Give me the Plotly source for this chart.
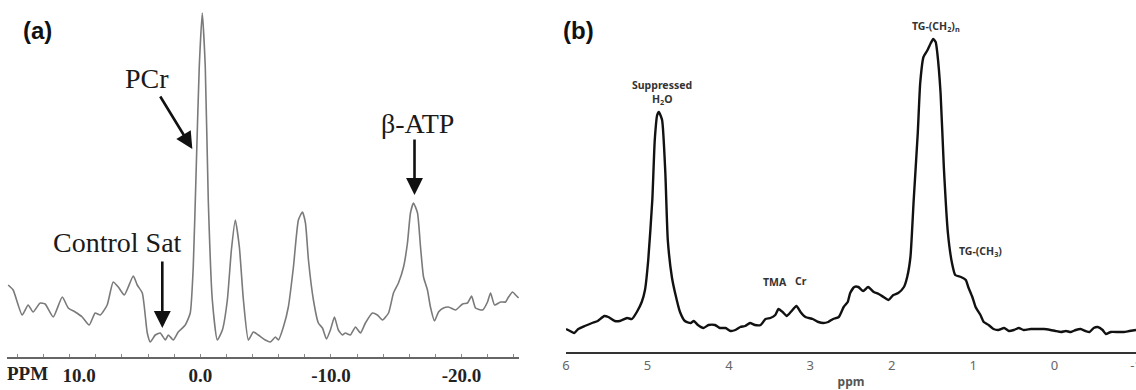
import plotly.graph_objects as go

# ---------------- Panel (a): 31P spectrum ----------------
ppm_a = [14.71, 14.33, 13.64, 13.18, 12.80, 12.26, 11.88, 11.26, 10.57, 10.11,
         9.58, 9.04, 8.51, 8.05, 7.66, 7.13, 6.67, 6.28, 5.82, 5.13,
         4.83, 4.44, 4.06, 3.83, 3.45, 3.07, 2.68, 2.45, 2.07, 1.69,
         1.15, 0.77, 0.54, 0.31, 0.08, -0.15, -0.38, -0.61, -0.92, -1.30,
         -1.69, -2.07, -2.38, -2.68, -2.99, -3.30, -3.68, -4.06, -4.44, -4.98,
         -5.36, -5.75, -5.98, -6.36, -6.74, -7.13, -7.51, -7.82, -8.05, -8.28,
         -8.66, -9.04, -9.35, -9.66, -9.96, -10.27, -10.57, -10.88, -11.11, -11.49,
         -11.88, -12.26, -12.64, -13.18, -13.56, -13.95, -14.41, -14.79, -15.17, -15.56,
         -15.86, -16.09, -16.32, -16.63, -16.86, -17.09, -17.39, -17.62, -17.93, -18.24,
         -18.62, -19.00, -19.54, -20.08, -20.46, -20.77, -21.07, -21.61, -21.99, -22.22,
         -22.53, -22.99, -23.37, -23.60, -23.91, -24.14, -24.37]
int_a = [72, 67, 42, 52, 45, 54, 53, 40, 60, 49,
         45, 40, 32, 44, 42, 52, 75, 70, 62, 81,
         72, 64, 24, 15, 22, 24, 17, 22, 17, 25,
         32, 44, 90, 190, 290, 344, 290, 157, 57, 17,
         27, 57, 107, 137, 110, 57, 17, 25, 22, 17,
         15, 20, 17, 30, 50, 90, 137, 145, 134, 97,
         57, 34, 29, 18, 27, 40, 27, 22, 24, 22,
         30, 24, 34, 44, 42, 37, 44, 64, 74, 90,
         114, 144, 154, 144, 110, 80, 67, 50, 36, 45,
         49, 50, 47, 53, 54, 61, 49, 47, 55, 64,
         52, 55, 55, 60, 65, 62, 59]
tick_vals_a = [14, 12, 10, 8, 6, 4, 2, 0, -2, -4, -6, -8, -10, -12, -14, -16, -18, -20, -22, -24]
tick_text_a = ["", "", "10.0", "", "", "", "", "0.0", "", "", "", "", "-10.0", "", "", "", "", "-20.0", "", ""]

# ---------------- Panel (b): 1H spectrum ----------------
ppm_b = [6.00, 5.95, 5.90, 5.85, 5.77, 5.68, 5.61, 5.53, 5.48, 5.40,
         5.34, 5.25, 5.19, 5.13, 5.07, 5.03, 4.99, 4.94, 4.91, 4.88,
         4.86, 4.82, 4.78, 4.75, 4.70, 4.66, 4.60, 4.54, 4.47, 4.43,
         4.38, 4.31, 4.25, 4.17, 4.11, 4.04, 3.98, 3.92, 3.86, 3.80,
         3.74, 3.68, 3.61, 3.55, 3.49, 3.43, 3.39, 3.34, 3.29, 3.24,
         3.17, 3.12, 3.06, 2.97, 2.90, 2.84, 2.78, 2.72, 2.65, 2.59,
         2.54, 2.51, 2.46, 2.41, 2.35, 2.29, 2.22, 2.16, 2.10, 2.04,
         1.98, 1.92, 1.85, 1.81, 1.77, 1.73, 1.68, 1.65, 1.61, 1.56,
         1.52, 1.49, 1.46, 1.44, 1.40, 1.36, 1.31, 1.26, 1.22, 1.15,
         1.09, 1.06, 1.01, 0.97, 0.91, 0.87, 0.81, 0.75, 0.69, 0.62,
         0.56, 0.50, 0.44, 0.38, 0.29, 0.21, 0.13, 0.05, -0.01, -0.08,
         -0.14, -0.20, -0.26, -0.32, -0.38, -0.43, -0.48, -0.53, -0.59, -0.63,
         -0.69, -0.78, -0.85, -0.92, -1.00]
int_b = [23, 21, 19, 23, 26, 29, 31, 36, 35, 31,
         31, 34, 33, 40, 50, 62, 92, 152, 212, 237,
         240, 232, 179, 112, 75, 59, 40, 31, 29, 31,
         27, 24, 27, 27, 24, 24, 21, 22, 25, 26,
         29, 27, 27, 33, 34, 37, 43, 40, 36, 40,
         46, 40, 35, 33, 30, 29, 30, 33, 35, 45,
         50, 59, 65, 65, 61, 65, 60, 58, 55, 52,
         57, 59, 65, 75, 95, 152, 219, 269, 295, 302,
         309, 313, 310, 299, 259, 185, 119, 89, 77, 75,
         72, 65, 55, 45, 37, 30, 27, 23, 22, 24,
         21, 22, 24, 22, 23, 23, 23, 22, 21, 20,
         21, 20, 22, 23, 21, 20, 24, 25, 22, 18,
         20, 20, 20, 21, 22]
tick_vals_b = [6, 5, 4, 3, 2, 1, 0, -1]
tick_text_b = ["6", "5", "4", "3", "2", "1", "0", "-1"]

W, H = 1136, 390
SERIF = "Liberation Serif, Times New Roman, serif"
SANS = "Noto Sans, Open Sans, Arial, sans-serif"
NB = "\u00a0"

fig = go.Figure()
fig.add_trace(go.Scatter(x=ppm_a, y=int_a, mode="lines", xaxis="x", yaxis="y",
                         line=dict(color="#7a7a7a", width=1.6, shape="spline", smoothing=0.5),
                         hoverinfo="skip", showlegend=False))
fig.add_trace(go.Scatter(x=ppm_b, y=int_b, mode="lines", xaxis="x2", yaxis="y2",
                         line=dict(color="#111111", width=2.4, shape="spline", smoothing=0.5),
                         hoverinfo="skip", showlegend=False))

ticklab_a = []
for t in tick_text_a:
    if not t:
        ticklab_a.append("")
    elif t == "10.0":
        ticklab_a.append(NB * 4 + "<b>%s</b>" % t)
    else:
        ticklab_a.append("<b>%s</b>" % t)

fig.update_layout(
    width=W, height=H,
    margin=dict(l=0, r=0, t=0, b=0, autoexpand=False),
    paper_bgcolor="white", plot_bgcolor="white",
    xaxis=dict(domain=[7 / W, 519 / W], range=[14.8, -24.4], showgrid=False, zeroline=False,
               showline=True, linecolor="#666666", linewidth=1.5,
               ticks="inside", ticklen=3, tickcolor="#888888", tickwidth=1,
               tickvals=tick_vals_a, ticktext=ticklab_a,
               tickfont=dict(family=SERIF, size=19, color="#222222"),
               ticklabelstandoff=0, automargin=False,
               anchor="y"),
    yaxis=dict(domain=[(H - 357) / H, 1.0], range=[0, 357], visible=False, anchor="x",
               automargin=False),
    xaxis2=dict(domain=[566 / W, 1.0], range=[6, -1.0], showgrid=False, zeroline=False,
                showline=True, linecolor="#333333", linewidth=2,
                ticks="", tickvals=tick_vals_b, ticktext=tick_text_b,
                tickfont=dict(family=SANS, size=13, color="#666666"),
                ticklabeloverflow="allow", automargin=False,
                title=dict(text="<b>ppm</b>", font=dict(family=SANS, size=12, color="#555555"), standoff=12),
                anchor="y2"),
    yaxis2=dict(domain=[(H - 352) / H, 1.0], range=[0, 352], visible=False, anchor="x2",
                automargin=False),
)

ann = []
# panel letters
ann.append(dict(text="<b>(a)</b>", xref="paper", yref="paper", x=37 / W, y=1 - 31 / H,
                xanchor="center", yanchor="middle",
                showarrow=False, font=dict(family="Liberation Sans, Arial", size=24, color="#111111")))
ann.append(dict(text="<b>(b)</b>", xref="paper", yref="paper", x=578 / W, y=1 - 31 / H,
                xanchor="center", yanchor="middle",
                showarrow=False, font=dict(family="Liberation Sans, Arial", size=24, color="#111111")))
# PPM label
ann.append(dict(text="<b>PPM</b>", xref="paper", yref="paper", x=28 / W, y=1 - 373 / H,
                xanchor="center", yanchor="middle",
                showarrow=False, font=dict(family=SERIF, size=19, color="#222222")))
# panel (a) labels
for txt, xx, yy in [("PCr", 4.06, 279), ("Control Sat", 6.36, 115), ("β-ATP", -16.63, 234)]:
    ann.append(dict(text=txt, xref="x", yref="y", x=xx, y=yy, showarrow=False,
                    xanchor="center", yanchor="middle",
                    font=dict(family=SERIF, size=28, color="#1a1a1a")))
# panel (a) arrows
for xx, yy, axp, ayp in [(0.61, 208, -33, -54), (2.91, 29, 0, -68), (-16.4, 162, 0, -57)]:
    ann.append(dict(text="", xref="x", yref="y", x=xx, y=yy, ax=axp, ay=ayp,
                    showarrow=True, arrowhead=2, arrowsize=1.3, arrowwidth=2.6,
                    arrowcolor="#111111", standoff=0))
# panel (b) labels
lab_font = dict(family=SANS, size=10.5, color="#333333")
for txt, xx, yy in [("<b>Suppressed</b>", 4.82, 267), ("<b>H<sub>2</sub>O</b>", 4.82, 253),
                    ("<b>TMA</b>", 3.43, 70), ("<b>Cr</b>", 3.12, 71),
                    ("<b>TG-(CH<sub>2</sub>)<sub>n</sub></b>", 1.46, 326),
                    ("<b>TG-(CH<sub>3</sub>)</b>", 0.91, 101)]:
    ann.append(dict(text=txt, xref="x2", yref="y2", x=xx, y=yy, showarrow=False,
                    xanchor="center", yanchor="middle", font=lab_font))

fig.update_layout(annotations=ann)
fig.write_html("out.html", config={"displayModeBar": False},
               post_script="document.body.style.margin='0';document.body.style.padding='0';")
